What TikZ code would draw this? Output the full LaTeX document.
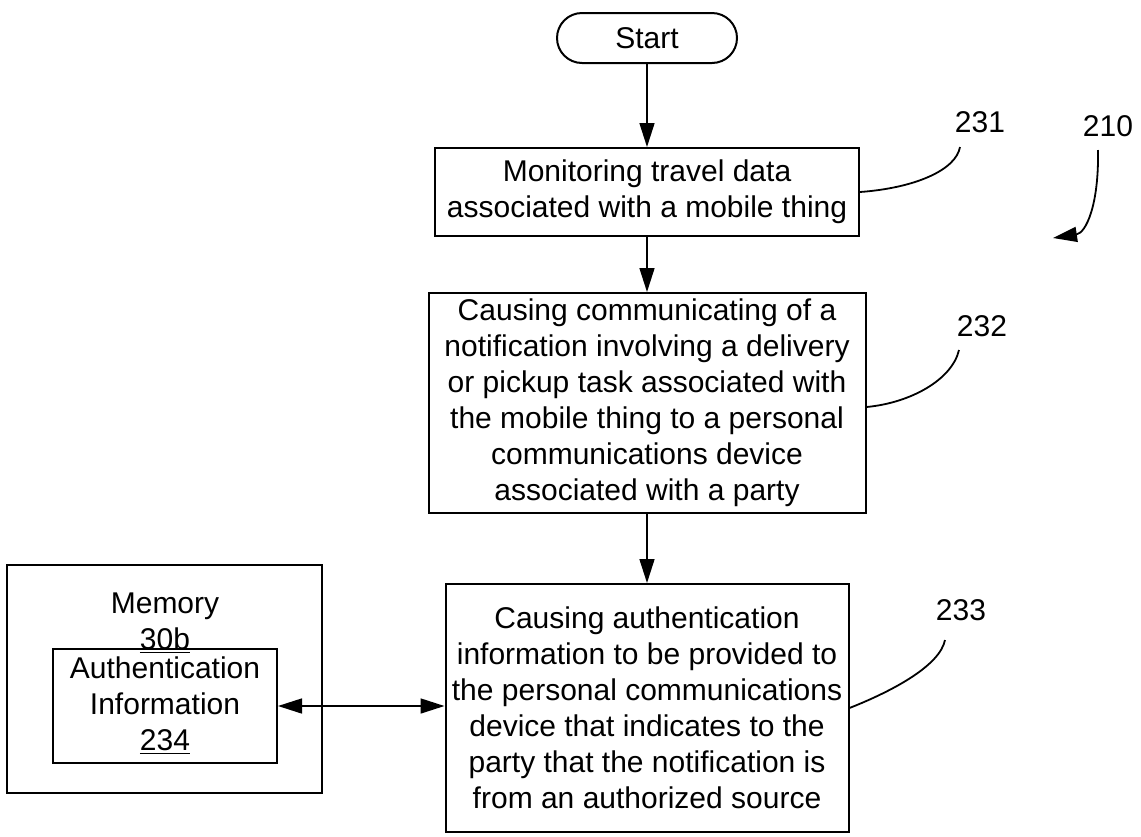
\documentclass[tikz,border=0pt]{standalone}
\usepackage{fontspec}
\setmainfont{Liberation Sans}
\usetikzlibrary{arrows.meta, positioning}

\begin{document}
\begin{tikzpicture}[
    x=0.5pt, y=-0.5pt,
    every node/.style={font=\fontsize{15}{18}\selectfont},
    box/.style={rectangle, draw, line width=1pt, align=center, inner sep=2pt},
    startbox/.style={box, rounded corners=12.5pt, minimum width=90pt, minimum height=25pt},
    lead/.style={line width=0.9pt},
    ->, >={Triangle[length=12pt, width=7.5pt]}
  ]
\useasboundingbox (0,0) rectangle (1141,836);

% Nodes
\node[startbox] (start) at (647,38) {Start};
\node[box, below=41.5pt of start, minimum width=212pt, minimum height=44pt] (monitor)
  {Monitoring travel data\\associated with a mobile thing};
\node[box, below=27.5pt of monitor, minimum width=218.5pt, minimum height=110pt] (notify)
  {Causing communicating of a\\notification involving a delivery\\or pickup task associated with\\the mobile thing to a personal\\communications device\\associated with a party};
\node[box, below=34.5pt of notify, minimum width=201.5pt, minimum height=124pt] (authsrc)
  {Causing authentication\\information to be provided to\\the personal communications\\device that indicates to the\\party that the notification is\\from an authorized source};
\node[box, minimum width=157.5pt, minimum height=114pt] (memory) at (164.5,679) {};
\node[align=center, inner sep=0pt] (memtxt) at (165,623) {Memory\\\underline{30b}};
\node[box, minimum width=112pt, minimum height=57pt] (authinfo) at (165,706)
  {Authentication\\Information\\\underline{234}};

% Reference numerals
\node (n231) at (980,122) {231};
\node (n210) at (1108,126) {210};
\node (n232) at (982,326) {232};
\node (n233) at (961,610) {233};
\coordinate (t231) at (960,147);
\coordinate (t232) at (959,350);
\coordinate (t233) at (945,640);
\coordinate (t210) at (1098,150);
\coordinate (h210) at (1053,238);

% Arrows
\draw[->, line width=0.8pt] (start) -- (monitor);
\draw[->, line width=0.8pt] (monitor) -- (notify);
\draw[->, line width=0.8pt] (notify) -- (authsrc);
\draw[<->, line width=0.8pt] (authinfo.east) -- (authinfo.east -| authsrc.west);
\draw[->, line width=0.9pt] (t210) .. controls (1099,205) and (1086,233) .. (h210);

% Leaders
\draw[-, lead] (monitor.east) .. controls (915,188) and (956,170) .. (t231);
\draw[-, lead] ([yshift=-2pt]notify.east) .. controls (910,403) and (952,380) .. (t232);
\draw[-, lead] (authsrc.east) .. controls (895,690) and (940,665) .. (t233);

\end{tikzpicture}
\end{document}
